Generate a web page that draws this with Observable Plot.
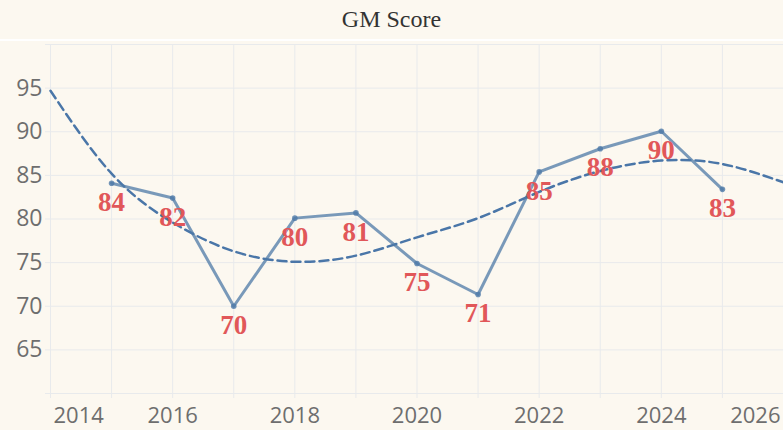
<!DOCTYPE html>
<html>
<head>
<meta charset="utf-8">
<script src="https://cdn.jsdelivr.net/npm/d3@7"></script>
<script src="https://cdn.jsdelivr.net/npm/@observablehq/plot@0.6"></script>
<style>
  html, body { margin: 0; padding: 0; background: #ffffff; }
  #wrap { width: 783px; height: 430px; overflow: hidden; background: #ffffff; }
  #title {
    height: 39px; background: #fcf8f0; margin-bottom: 2px;
    font-family: "Liberation Serif", "Times New Roman", serif;
    font-size: 24px; color: #333; text-align: center; line-height: 38px;
  }
  #chart svg { display: block; }
</style>
</head>
<body>
<div id="wrap">
  <div id="title">GM Score</div>
  <div id="chart"></div>
</div>
<script>
const years = [2015, 2016, 2017, 2018, 2019, 2020, 2021, 2022, 2023, 2024, 2025];
const scores = [84.1, 82.4, 70.0, 80.1, 80.7, 74.9, 71.35, 85.4, 88.05, 90.06, 83.4];

const trendYears = [2014, 2015, 2016, 2017, 2018, 2019, 2020, 2021, 2022, 2023, 2024, 2025, 2026];
const trendValues = [94.7, 85.2, 79.6, 76.3, 75.1, 75.8, 77.9, 80.1, 83.1, 85.5, 86.7, 86.3, 84.2];

const xTicksInner = [2016, 2018, 2020, 2022, 2024];
const xTickFirst = [2014];
const xTickLast = [2026];
const xGrid = d3.range(2014, 2027);
const yTicks = [65, 70, 75, 80, 85, 90, 95];
const yGrid = [60, 65, 70, 75, 80, 85, 90, 95, 100];

const data = years.map((y, i) => ({year: y, score: scores[i]}));
const trend = trendYears.map((y, i) => ({year: y, value: trendValues[i]}));

const axisFont = "Open Sans, Lato, sans-serif";
const axisColor = "#6e6e6e";

const chart = Plot.plot({
  width: 783,
  height: 389,
  marginTop: 3,
  marginBottom: 37,
  marginLeft: 50,
  marginRight: 0,
  style: {background: "#fcf8f0", fontFamily: axisFont},
  x: {domain: [2014, 2026]},
  y: {domain: [60, 100]},
  marks: [
    Plot.gridX(xGrid, {stroke: "#e8eaec", strokeOpacity: 1, insetBottom: -5}),
    Plot.gridY(yGrid, {stroke: "#e8eaec", strokeOpacity: 1, insetLeft: -5}),
    Plot.axisY(yTicks, {tickSize: 0, tickPadding: 8, fontSize: 23, fill: axisColor, label: null}),
    Plot.axisX(xTicksInner, {tickSize: 0, tickPadding: 14, fontSize: 22, fill: axisColor, label: null, tickFormat: d => String(d)}),
    Plot.axisX(xTickFirst, {tickSize: 0, tickPadding: 14, fontSize: 22, fill: axisColor, label: null, tickFormat: d => String(d), textAnchor: "start", dx: 3}),
    Plot.axisX(xTickLast, {tickSize: 0, tickPadding: 14, fontSize: 22, fill: axisColor, label: null, tickFormat: d => String(d), textAnchor: "end", dx: -3}),
    Plot.line(trend, {x: "year", y: "value", curve: "natural", stroke: "#4a76a8", strokeWidth: 2.5, strokeDasharray: "9,5"}),
    Plot.line(data, {x: "year", y: "score", stroke: "#4e79a7", strokeOpacity: 0.75, strokeWidth: 3}),
    Plot.dot(data, {x: "year", y: "score", r: 2.8, fill: "#4e79a7", fillOpacity: 0.8, stroke: "none"}),
    Plot.text(data, {x: "year", y: "score", text: d => String(Math.round(d.score)), dy: 19, fill: "#e15759", fontSize: 27, fontWeight: "bold", fontFamily: "Liberation Serif, Times New Roman, serif"})
  ]
});
document.getElementById("chart").appendChild(chart);
</script>
</body>
</html>
